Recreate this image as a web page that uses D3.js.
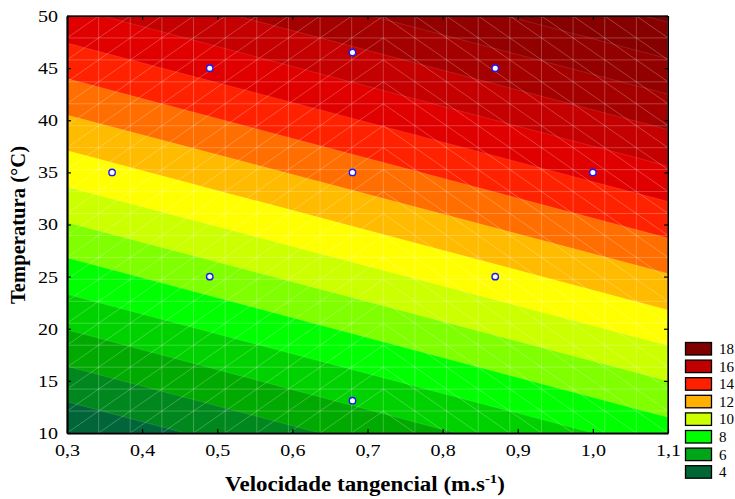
<!DOCTYPE html>
<html>
<head>
<meta charset="utf-8">
<script src="https://cdn.jsdelivr.net/npm/d3@7"></script>
<style>
  html, body { margin: 0; padding: 0; background: #fff; }
  svg { display: block; }
  text { font-family: "Liberation Serif", "Times New Roman", serif; fill: #000; }
</style>
</head>
<body>
<svg id="chart" width="735" height="499"></svg>
<script>
// ---- data ----
const contourLevels = [4, 5, 6, 7, 8, 9, 10, 11, 12, 13, 14, 15, 16, 17, 18, 19];
// temperature where each contour crosses x = 0.3 and x = 1.1
const tempAtLeft  = [13.0, 16.4, 19.9, 23.3, 26.8, 30.2, 33.6, 37.1, 40.5, 44.0, 47.4, 50.9, 54.3, 57.7, 61.2, 64.6];
const tempAtRight = [-2.3, 1.2, 4.6, 8.1, 11.5, 15.0, 18.4, 21.8, 25.3, 28.7, 32.2, 35.6, 39.1, 42.5, 45.9, 49.4];
// fill of each band, from the lowest (below 4) upwards
const bandColors = ["#00663a", "#00881e", "#00aa00", "#00d200", "#00ff00", "#80ff00", "#ccff00",
                    "#ffff00", "#ffbb00", "#ff6e00", "#ff2200", "#e00000", "#c40000", "#a50000",
                    "#920000", "#860000", "#7c0000"];
const legendLabels = ["18", "16", "14", "12", "10", "8", "6", "4"];
const legendColors = ["#800000", "#c00000", "#ff2000", "#ffb000", "#ccff00", "#00ff00", "#00a51a", "#006633"];
const pointsX = [0.36, 0.49, 0.49, 0.68, 0.68, 0.68, 0.87, 0.87, 1.00];
const pointsT = [35, 45, 25, 46.5, 35, 13.1, 45, 25, 35];
const xTicks = [0.3, 0.4, 0.5, 0.6, 0.7, 0.8, 0.9, 1.0, 1.1];
const yTicks = [10, 15, 20, 25, 30, 35, 40, 45, 50];
const xDomain = [0.3, 1.1];
const yDomain = [10, 50];
const meshCells = 19;

// ---- layout ----
const L = 67, R = 668, T = 16, B = 433;
const svg = d3.select("#chart");
const x = d3.scaleLinear().domain(xDomain).range([L, R]);
const y = d3.scaleLinear().domain(yDomain).range([B, T]);
const comma = v => d3.format(".1f")(v).replace(".", ",");
function stretch(sel, f) {
  sel.each(function () {
    const w = this.getComputedTextLength();
    d3.select(this).attr("textLength", w * f).attr("lengthAdjust", "spacingAndGlyphs");
  });
}

svg.append("defs").append("clipPath").attr("id", "plotclip")
  .append("rect").attr("x", L).attr("y", T).attr("width", R - L).attr("height", B - T);

const plot = svg.append("g").attr("clip-path", "url(#plotclip)");
plot.append("rect").attr("x", L).attr("y", T).attr("width", R - L).attr("height", B - T)
  .attr("fill", bandColors[0]);

const line = d3.line().x(d => x(d[0])).y(d => y(d[1]));
const farTop = 500;
contourLevels.forEach((lv, i) => {
  const poly = [[xDomain[0], tempAtLeft[i]], [xDomain[1], tempAtRight[i]],
                [xDomain[1], farTop], [xDomain[0], farTop]];
  plot.append("path").attr("d", line(poly) + "Z").attr("fill", bandColors[i + 1]);
});
// faint contour boundary lines
contourLevels.forEach((lv, i) => {
  plot.append("path")
    .attr("d", line([[xDomain[0], tempAtLeft[i]], [xDomain[1], tempAtRight[i]]]))
    .attr("stroke", "#fff").attr("stroke-opacity", 0.14).attr("stroke-width", 0.8).attr("fill", "none");
});

// mesh
const mx = d3.range(meshCells + 1).map(i => xDomain[0] + i * (xDomain[1] - xDomain[0]) / meshCells);
const my = d3.range(meshCells + 1).map(i => yDomain[0] + i * (yDomain[1] - yDomain[0]) / meshCells);
const mesh = plot.append("g").attr("stroke", "#fff").attr("stroke-opacity", 0.3)
  .attr("stroke-width", 0.8).attr("fill", "none");
mx.forEach(v => mesh.append("line").attr("x1", x(v)).attr("x2", x(v)).attr("y1", T).attr("y2", B));
my.forEach(v => mesh.append("line").attr("y1", y(v)).attr("y2", y(v)).attr("x1", L).attr("x2", R));
for (let i = 0; i < meshCells; i++) {
  for (let j = 0; j < meshCells; j++) {
    const up = i < 10;
    mesh.append("line")
      .attr("x1", x(mx[i])).attr("x2", x(mx[i + 1]))
      .attr("y1", y(up ? my[j] : my[j + 1])).attr("y2", y(up ? my[j + 1] : my[j]));
  }
}

// design points
svg.append("g").selectAll("circle").data(pointsX).join("circle")
  .attr("cx", d => x(d)).attr("cy", (d, i) => y(pointsT[i])).attr("r", 3.2)
  .attr("fill", "#fff").attr("stroke", "#1a1aff").attr("stroke-width", 1.4);

// frame
svg.append("line").attr("x1", L).attr("x2", R).attr("y1", T).attr("y2", T).attr("stroke", "#222").attr("stroke-width", 1.5);
svg.append("line").attr("x1", R).attr("x2", R).attr("y1", T).attr("y2", B).attr("stroke", "#222").attr("stroke-width", 1.5);

// axes
const xAxis = svg.append("g").attr("transform", `translate(0,${B})`)
  .call(d3.axisBottom(x).tickValues(xTicks).tickFormat(comma).tickSizeInner(-4).tickSizeOuter(0).tickPadding(11));
const yAxis = svg.append("g").attr("transform", `translate(${L},0)`)
  .call(d3.axisLeft(y).tickValues(yTicks).tickFormat(d3.format("d")).tickSizeInner(-4).tickSizeOuter(0).tickPadding(9));
svg.append("g").attr("transform", `translate(0,${T})`)
  .call(d3.axisTop(x).tickValues(xTicks).tickFormat("").tickSizeInner(-4).tickSizeOuter(0));
svg.append("g").attr("transform", `translate(${R},0)`)
  .call(d3.axisRight(y).tickValues(yTicks).tickFormat("").tickSizeInner(-4).tickSizeOuter(0));
[xAxis, yAxis].forEach(g => {
  g.select(".domain").attr("stroke", "#000").attr("stroke-width", 2.2);
  g.selectAll("text").attr("font-size", 17).attr("font-family", "Liberation Serif, Times New Roman, serif");
  stretch(g.selectAll("text"), 1.18);
});
svg.selectAll(".tick line").attr("stroke", "#000").attr("stroke-width", 1.2);

// axis titles
const xt = svg.append("text").attr("x", 365).attr("y", 491).attr("text-anchor", "middle")
  .attr("font-size", 20).attr("font-weight", "bold");
xt.append("tspan").text("Velocidade tangencial (m.s");
xt.append("tspan").text("-1").attr("font-size", 13).attr("dy", -8);
xt.append("tspan").text(")").attr("dy", 8);
stretch(xt, 1.0);
xt.attr("textLength", 280);

const yt = svg.append("text").attr("transform", "translate(25,225) rotate(-90)").attr("text-anchor", "middle")
  .attr("font-size", 20).attr("font-weight", "bold").text("Temperatura (°C)");
yt.attr("textLength", 158).attr("lengthAdjust", "spacingAndGlyphs");

// legend
const lg = svg.append("g");
legendLabels.forEach((lab, i) => {
  const ty = 342.5 + i * 17.6;
  lg.append("rect").attr("x", 685.5).attr("y", ty).attr("width", 26).attr("height", 12.5)
    .attr("fill", legendColors[i]).attr("stroke", "#000").attr("stroke-width", 1.3);
  lg.append("text").attr("x", 719).attr("y", ty + 11.5).attr("font-size", 15).text(lab);
});
</script>
</body>
</html>
